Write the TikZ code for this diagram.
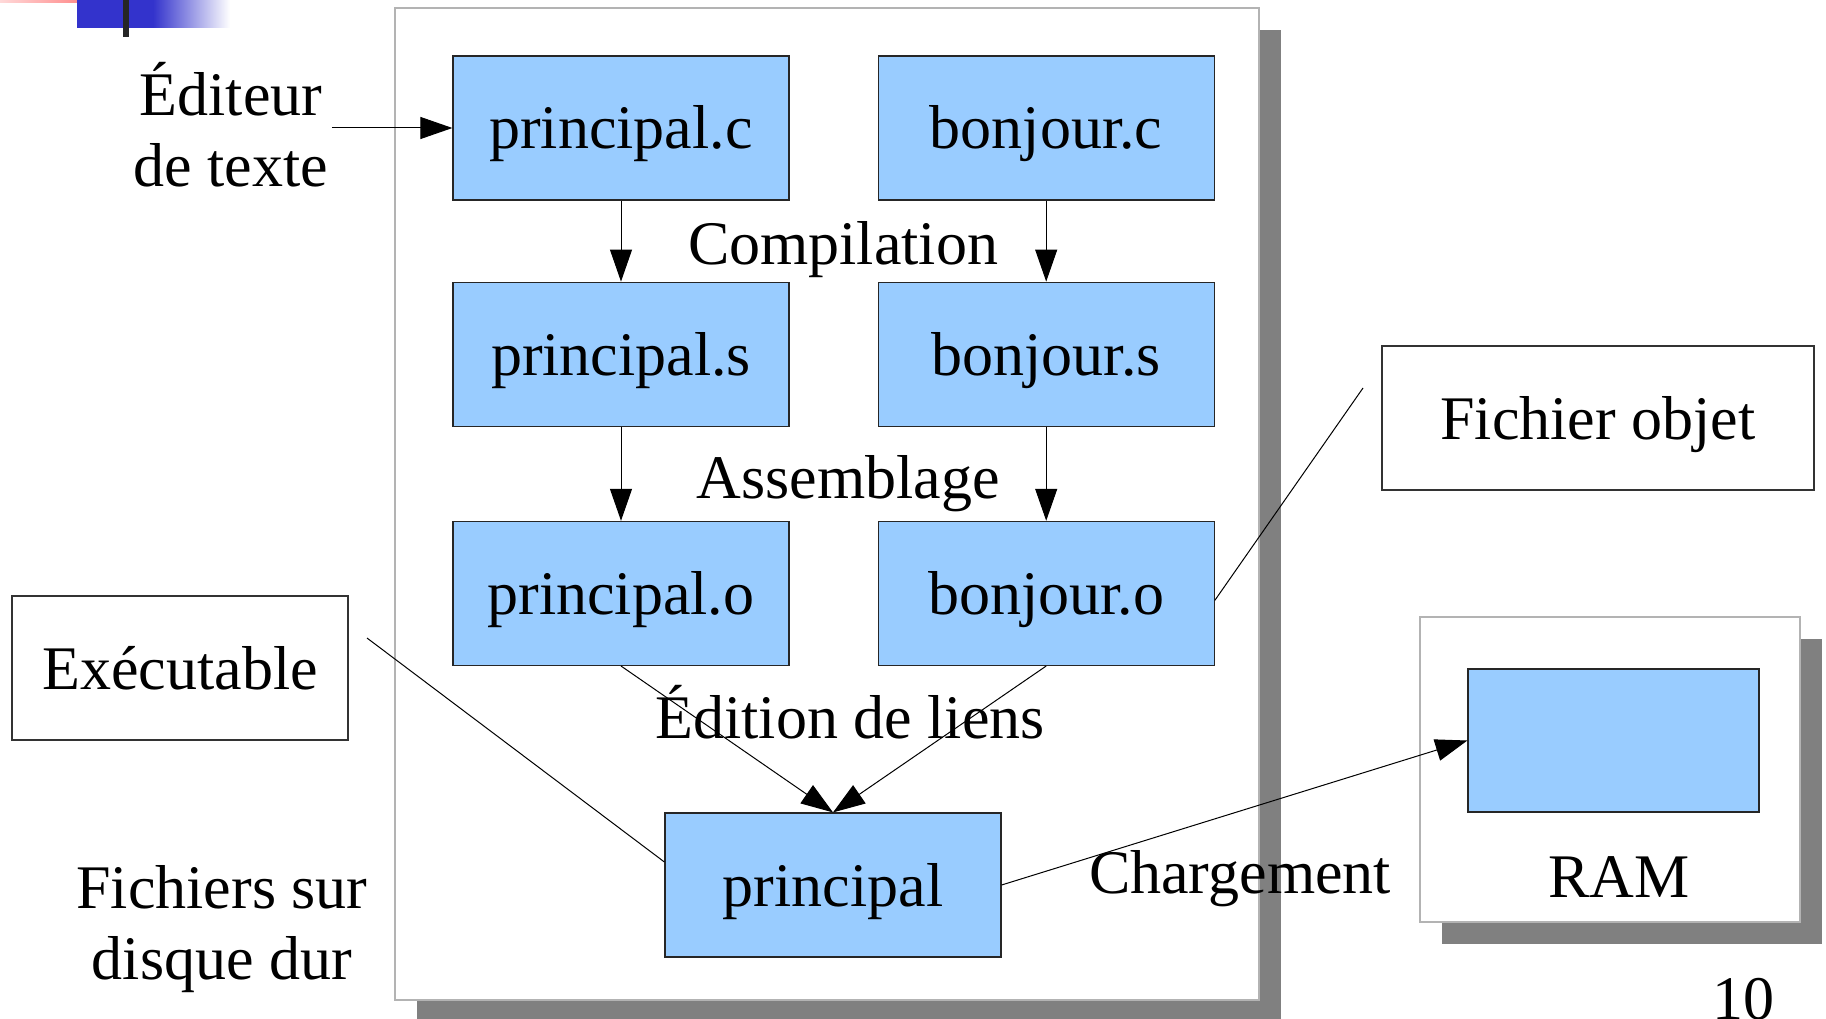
\documentclass[tikz,border=0pt]{standalone}
\usepackage{fontspec}
\setmainfont{Liberation Serif}
\usetikzlibrary{arrows.meta, shadows, positioning}
\definecolor{fileblue}{RGB}{153,204,255}
\definecolor{panelgray}{RGB}{179,179,179}
\definecolor{shadowgray}{RGB}{128,128,128}
\definecolor{logoblue}{RGB}{51,51,204}

\begin{document}
\begin{tikzpicture}[
                x=1pt, y=-1pt,
                every node/.style={font=\fontsize{62}{71}\selectfont},
                filebox/.style={shape=rectangle, fill=fileblue, draw=black!85, line width=1.2pt, minimum width=336pt, minimum height=144pt, text height=44pt, text depth=2pt},
                notebox/.style={shape=rectangle, fill=white, draw=black!80, line width=1.2pt, minimum width=336pt, minimum height=144pt, text height=44pt, text depth=2pt},
                panel/.style={shape=rectangle, fill=white, draw=panelgray, line width=1.5pt, drop shadow={shadow xshift=22pt, shadow yshift=-22pt, fill=shadowgray, opacity=1}},
                flow/.style={-{Triangle[length=32pt, width=22pt]}, line width=1pt},
                callout/.style={line width=1pt}
                ]
                \useasboundingbox (0,0) rectangle (1826,1019);

                %% Logo
                \shade[left color=red!15, right color=red!55] (0,0) rectangle (107,2.5);
                \fill[logoblue] (77,0) rectangle (153,28);
                \shade[left color=logoblue, right color=white] (153,0) rectangle (230,28);
                \fill[black!85] (123,0) rectangle (129,37);

                %% Panels
                \node[panel, minimum width=864pt, minimum height=992pt] (disk) at (827,504) {};
                \node[panel, minimum width=380pt, minimum height=305pt] (ram) at (1610,769.5) {};

                %% Files
                \node[filebox] (pc) at (621,128) {principal.c};
                \node[filebox, right=88pt of pc] (bc) {bonjour.c};
                \node[filebox, below=81pt of pc] (ps) {principal.s};
                \node[filebox, below=81pt of bc] (bs) {bonjour.s};
                \node[filebox, below=94pt of ps] (po) {principal.o};
                \node[filebox, below=94pt of bs] (bo) {bonjour.o};
                \node[filebox] (prog) at (833,885) {principal};
                \node[filebox, minimum width=291pt, minimum height=143pt] (ramcell) at (1613.5,740.5) {};

                %% Labels
                \node[align=center] (edit) at (231,125) {Éditeur\\de texte};
                \node[anchor=base] (compil) at (843,265) {Compilation};
                \node[anchor=base] (assem) at (848,498) {Assemblage};
                \node[anchor=base] (liens) at (850,738) {Édition de liens};
                \node[anchor=base] (charge) at (1240,893) {Chargement};
                \node[anchor=base] (ramlabel) at (1619,897) {RAM};
                \node[align=center] (disklabel) at (222,929) {Fichiers sur\\disque dur};
                \node[anchor=base] (pagenum) at (1743,1019) {10};
                \node[notebox] (exe) at (180,668) {Exécutable};
                \node[notebox, minimum width=432pt] (obj) at (1598,418) {Fichier objet};

                %% Draws
                \draw[flow] (edit.east |- pc) -- (pc);
                \draw[flow] (pc) -- (ps);
                \draw[flow] (bc) -- (bs);
                \draw[flow] (ps) -- (po);
                \draw[flow] (bs) -- (bo);
                \draw[flow] (po.south) -- (prog.north);
                \draw[flow] (bo.south) -- (prog.north);
                \draw[flow] (prog.east) -- (ramcell.west);

                        % Callouts
                        \coordinate (exetip) at (367,638);
                        \coordinate (objtip) at (1363,388);
                        \draw[callout] (exetip) -- ([yshift=23pt]prog.west);
                        \draw[callout] (objtip) -- ([yshift=-7pt]bo.east);
\end{tikzpicture}
\end{document}
